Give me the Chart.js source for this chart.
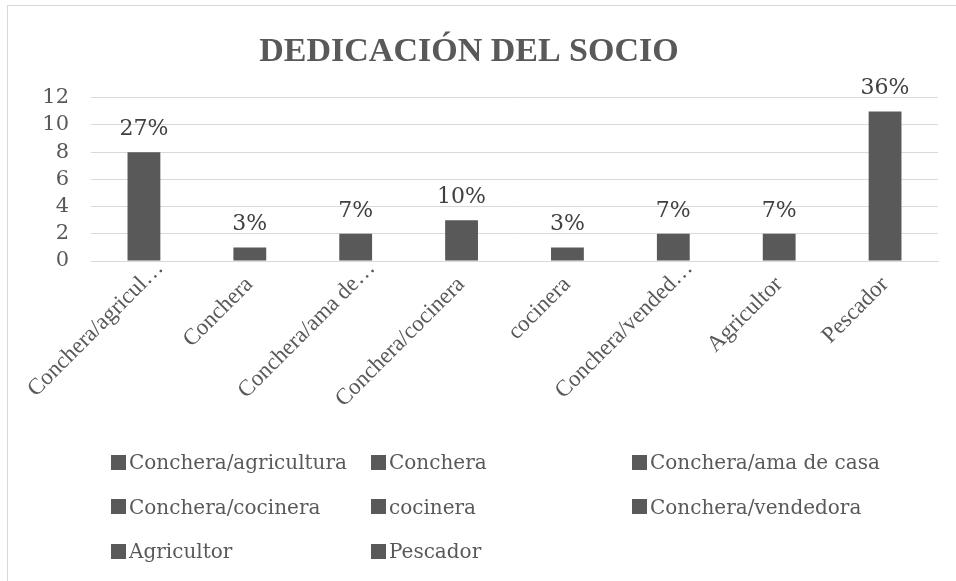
<!DOCTYPE html>
<html lang="es">
<head>
<meta charset="utf-8">
<script src="https://cdn.jsdelivr.net/npm/chart.js@4/dist/chart.umd.min.js"></script>
<style>
  html, body { margin: 0; padding: 0; background: #fff; }
  #wrap { position: relative; width: 956px; height: 581px; overflow: hidden; }
  #marco { position: absolute; left: 7px; top: 5px; width: 980px; height: 620px;
           border: 1px solid #d9d9d9; box-sizing: border-box; }
  #myChart { position: absolute; left: 0; top: 0; }
  #leyenda { position: absolute; left: 111px; top: 440px;
             display: grid; grid-template-columns: 260px 261px 300px; grid-auto-rows: 44.5px;
             font-family: "DejaVu Serif", serif; font-size: 20px; color: #595959; }
  #leyenda div { display: flex; align-items: center; white-space: nowrap; }
  #leyenda span.cuadro { display: inline-block; width: 15px; height: 15px; margin-right: 3px; }
</style>
</head>
<body>
<div id="wrap">
  <div id="marco"></div>
  <canvas id="myChart" width="956" height="581"></canvas>
  <div id="leyenda"></div>
</div>
<script>
// Datos del gráfico
const categorias = ['Conchera/agricultura', 'Conchera', 'Conchera/ama de casa', 'Conchera/cocinera',
  'cocinera', 'Conchera/vendedora', 'Agricultor', 'Pescador'];
const etiquetasEje = ['Conchera/agricul…', 'Conchera', 'Conchera/ama de…', 'Conchera/cocinera',
  'cocinera', 'Conchera/vended…', 'Agricultor', 'Pescador'];
const valores = [8, 1, 2, 3, 1, 2, 2, 11];
const porcentajes = ['27%', '3%', '7%', '10%', '3%', '7%', '7%', '36%'];
const ticksY = [0, 2, 4, 6, 8, 10, 12];

const colorBarra = '#595959';

// Etiquetas de datos encima de cada barra
const etiquetasDatos = {
  id: 'etiquetasDatos',
  afterDatasetsDraw(chart) {
    const ctx = chart.ctx;
    const meta = chart.getDatasetMeta(0);
    ctx.save();
    ctx.font = '22px "DejaVu Serif", serif';
    ctx.fillStyle = '#404040';
    ctx.textAlign = 'center';
    ctx.textBaseline = 'middle';
    meta.data.forEach((bar, i) => {
      ctx.fillText(porcentajes[i], bar.x, bar.y - 23);
    });
    ctx.restore();
  }
};

// Las etiquetas recortadas (con …) quedan más arriba, como en Excel
const etiquetaX = (i) => etiquetasEje[i].endsWith('…') ? etiquetasEje[i] : etiquetasEje[i] + '\u00A0\u00A0\u00A0\u00A0';

const ctx = document.getElementById('myChart').getContext('2d');
new Chart(ctx, {
  type: 'bar',
  data: {
    labels: categorias,
    datasets: [{
      data: valores,
      backgroundColor: colorBarra,
      categoryPercentage: 1,
      barPercentage: 0.31
    }]
  },
  options: {
    responsive: false,
    animation: false,
    layout: { padding: { left: 0, right: 18, top: 0, bottom: 0 } },
    plugins: {
      legend: { display: false },
      tooltip: { enabled: false },
      title: {
        display: true,
        text: 'DEDICACIÓN DEL SOCIO',
        color: '#595959',
        font: { family: '"Liberation Serif", serif', size: 34, weight: 'bold' },
        padding: { top: 32, bottom: 25 }
      }
    },
    scales: {
      x: {
        grid: { display: false },
        border: { color: '#d9d9d9' },
        ticks: {
          color: '#595959',
          font: { family: '"Liberation Serif", serif', size: 23 },
          minRotation: 45,
          maxRotation: 45,
          autoSkip: false,
          padding: -14,
          labelOffset: 16,
          callback: (v, i) => etiquetaX(i)
        },
        afterFit: (scale) => { scale.height = 320; }
      },
      y: {
        min: 0,
        max: 12,
        afterBuildTicks: (scale) => { scale.ticks = ticksY.map(v => ({ value: v })); },
        grid: { color: '#d9d9d9', drawTicks: false },
        border: { display: false },
        ticks: {
          color: '#595959',
          font: { family: '"DejaVu Serif", serif', size: 21 },
          autoSkip: false,
          padding: 22
        },
        afterFit: (scale) => { scale.width = 91; }
      }
    }
  },
  plugins: [etiquetasDatos]
});

// Leyenda en tres columnas
const leyenda = document.getElementById('leyenda');
categorias.forEach((c) => {
  const item = document.createElement('div');
  const cuadro = document.createElement('span');
  cuadro.className = 'cuadro';
  cuadro.style.background = colorBarra;
  item.appendChild(cuadro);
  item.appendChild(document.createTextNode(c));
  leyenda.appendChild(item);
});
</script>
</body>
</html>
